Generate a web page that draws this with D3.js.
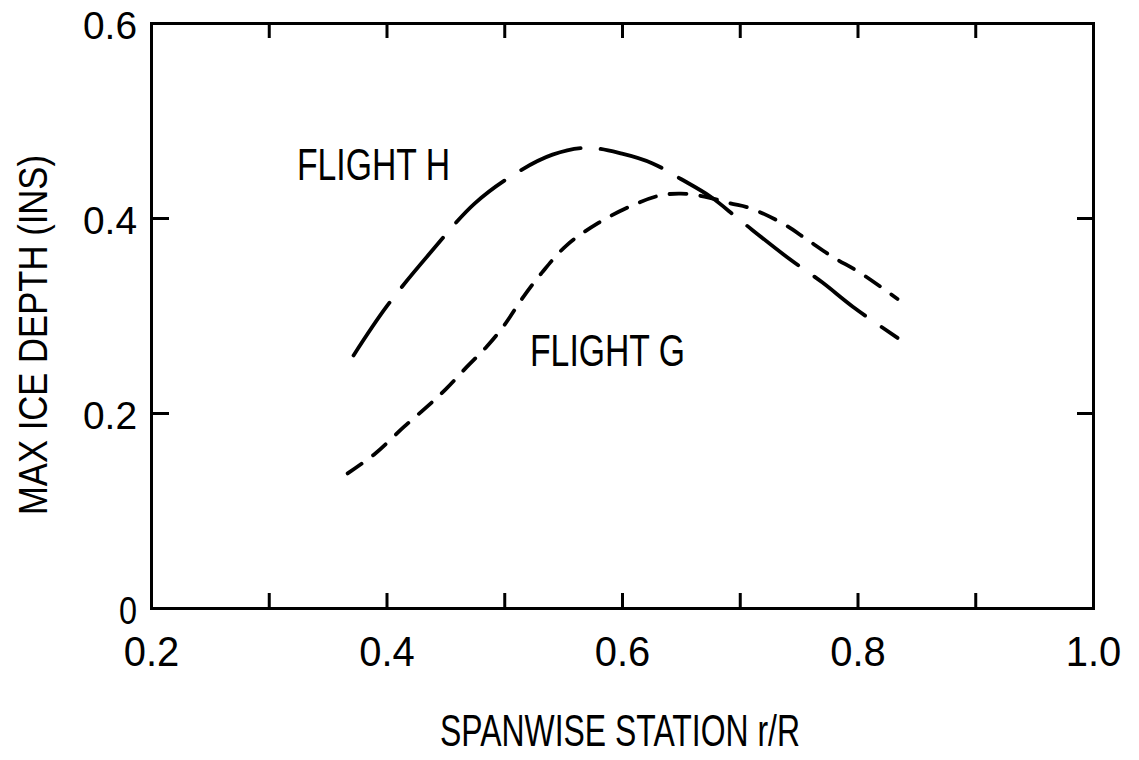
<!DOCTYPE html>
<html>
<head>
<meta charset="utf-8">
<script src="https://cdn.jsdelivr.net/npm/d3@7"></script>
<style>
  body { margin: 0; background: #fff; }
  svg text { font-family: "Liberation Sans", "DejaVu Sans", sans-serif; fill: #000; }
</style>
</head>
<body>
<svg id="chart" width="1139" height="760"></svg>
<script>
// values (spanwise station r/R, max ice depth in inches)
var flightH_x = [0.372, 0.400, 0.437, 0.475, 0.510, 0.541, 0.570, 0.600, 0.626, 0.650, 0.675, 0.700, 0.740, 0.770, 0.796, 0.834];
var flightH_y = [0.259, 0.309, 0.364, 0.415, 0.446, 0.465, 0.472, 0.466, 0.456, 0.440, 0.422, 0.398, 0.360, 0.334, 0.309, 0.277];

var flightG_x = [0.367, 0.390, 0.415, 0.434, 0.450, 0.468, 0.485, 0.500, 0.515, 0.532, 0.553, 0.580, 0.609, 0.632, 0.650, 0.670, 0.692, 0.709, 0.737, 0.757, 0.779, 0.802, 0.834];
var flightG_y = [0.138, 0.158, 0.186, 0.206, 0.224, 0.247, 0.268, 0.290, 0.317, 0.344, 0.372, 0.395, 0.413, 0.423, 0.425, 0.422, 0.415, 0.410, 0.394, 0.378, 0.360, 0.344, 0.317];

var xTicks = [0.2, 0.3, 0.4, 0.5, 0.6, 0.7, 0.8, 0.9, 1.0];
var xTickLabels = ["0.2", "", "0.4", "", "0.6", "", "0.8", "", "1.0"];
var yTicks = [0, 0.2, 0.4, 0.6];
var yTickLabels = ["0", "0.2", "0.4", "0.6"];

var svg = d3.select("#chart");

var x = d3.scaleLinear().domain([0.2, 1.0]).range([151, 1093]);
var y = d3.scaleLinear().domain([0, 0.6]).range([608, 23]);

// four sides, ticks pointing inward
var bottom = svg.append("g").attr("transform", "translate(0,608)")
  .call(d3.axisBottom(x).tickValues(xTicks).tickSizeInner(-15).tickSizeOuter(0).tickPadding(28)
    .tickFormat(function(d, i) { return xTickLabels[i]; }));
var top = svg.append("g").attr("transform", "translate(0,23)")
  .call(d3.axisTop(x).tickValues(xTicks).tickSizeInner(-15).tickSizeOuter(0).tickFormat(""));
var left = svg.append("g").attr("transform", "translate(151,0)")
  .call(d3.axisLeft(y).tickValues(yTicks).tickSizeInner(-18).tickSizeOuter(0).tickPadding(14)
    .tickFormat(function(d, i) { return yTickLabels[i]; }));
var right = svg.append("g").attr("transform", "translate(1093,0)")
  .call(d3.axisRight(y).tickValues(yTicks).tickSizeInner(-16).tickSizeOuter(0).tickFormat(""));

svg.selectAll(".domain").attr("stroke", "#000").attr("stroke-width", 3).attr("stroke-linecap", "square");
svg.selectAll(".tick line").attr("stroke", "#000").attr("stroke-width", 3);

bottom.selectAll(".tick text")
  .attr("font-size", 42).attr("fill", "#000")
  .attr("textLength", function(d, i) { return xTickLabels[i].length * 18.5; })
  .attr("lengthAdjust", "spacingAndGlyphs");
left.selectAll(".tick text")
  .attr("font-size", 38).attr("fill", "#000").attr("dy", "0.4em")
  .attr("textLength", function(d, i) { return yTickLabels[i].length * 18; })
  .attr("lengthAdjust", "spacingAndGlyphs");

// curves
var line = d3.line()
  .x(function(d) { return x(d[0]); })
  .y(function(d) { return y(d[1]); })
  .curve(d3.curveCatmullRom.alpha(0.5));

var hPts = flightH_x.map(function(v, i) { return [v, flightH_y[i]]; });
var gPts = flightG_x.map(function(v, i) { return [v, flightG_y[i]]; });

svg.append("path").datum(hPts).attr("d", line)
  .attr("fill", "none").attr("stroke", "#000").attr("stroke-width", 3.8)
  .attr("stroke-linecap", "round").attr("stroke-dasharray", "64,20");

svg.append("path").datum(gPts).attr("d", line)
  .attr("fill", "none").attr("stroke", "#000").attr("stroke-width", 3.8)
  .attr("stroke-linecap", "round").attr("stroke-dasharray", "17,14");

// labels
svg.append("text").attr("x", 297).attr("y", 180).attr("font-size", 44)
  .attr("textLength", 153).attr("lengthAdjust", "spacingAndGlyphs").text("FLIGHT H");
svg.append("text").attr("x", 530).attr("y", 366).attr("font-size", 44)
  .attr("textLength", 155).attr("lengthAdjust", "spacingAndGlyphs").text("FLIGHT G");

svg.append("text").attr("x", 440).attr("y", 746).attr("font-size", 45)
  .attr("textLength", 360).attr("lengthAdjust", "spacingAndGlyphs").text("SPANWISE STATION r/R");

svg.append("text").attr("transform", "translate(47,515) rotate(-90)").attr("font-size", 41)
  .attr("textLength", 360).attr("lengthAdjust", "spacingAndGlyphs").text("MAX ICE DEPTH (INS)");
</script>
</body>
</html>
